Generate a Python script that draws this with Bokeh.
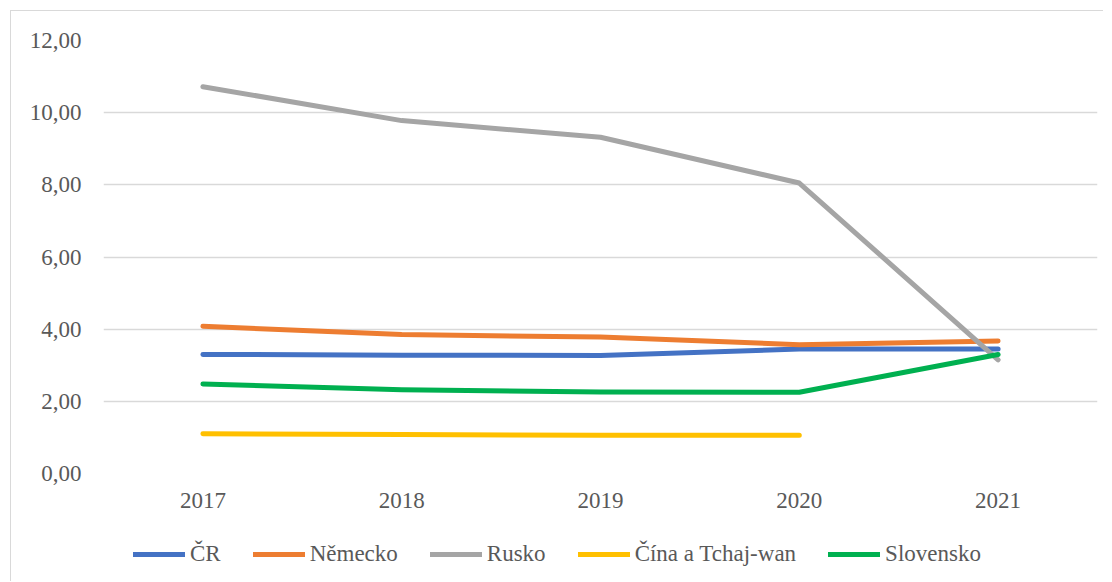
from bokeh.plotting import figure
from bokeh.layouts import column
from bokeh.models import FactorRange, Range1d, FixedTicker, Legend, LegendItem, ColumnDataSource
from bokeh.embed import file_html
from bokeh.resources import INLINE

years = ["2017", "2018", "2019", "2020", "2021"]
series_names = ["ČR", "Německo", "Rusko", "Čína a Tchaj-wan", "Slovensko"]
cr = [3.30, 3.28, 3.27, 3.45, 3.45]
nemecko = [4.08, 3.85, 3.78, 3.57, 3.67]
rusko = [10.72, 9.78, 9.32, 8.05, 3.15]
cina = [1.10, 1.08, 1.06, 1.06, float("nan")]
slovensko = [2.48, 2.32, 2.26, 2.25, 3.30]
colors = ["#4472C4", "#ED7D31", "#A5A5A5", "#FFC000", "#00B050"]
y_ticks = [0, 2, 4, 6, 8, 10, 12]
y_tick_labels = ["0,00", "2,00", "4,00", "6,00", "8,00", "10,00", "12,00"]

FONT = "Liberation Serif"
TXT = "#595959"
FS = "23px"

p = figure(width=1092, height=520, x_range=FactorRange(factors=years, range_padding=0),
           y_range=Range1d(0, 12), output_backend="svg", toolbar_location=None,
           min_border_left=92, min_border_right=6, min_border_top=29, min_border_bottom=58)
p.outline_line_color = None
p.background_fill_color = "white"
p.border_fill_color = "white"

p.xgrid.grid_line_color = None
p.ygrid.grid_line_color = "#d9d9d9"
p.ygrid.grid_line_width = 1.3

p.yaxis.ticker = FixedTicker(ticks=y_ticks)
p.yaxis.major_label_overrides = {t: l for t, l in zip(y_ticks, y_tick_labels)}
for ax in (p.xaxis, p.yaxis):
    ax.axis_line_color = None
    ax.major_tick_line_color = None
    ax.minor_tick_line_color = None
    ax.major_tick_out = 0
    ax.major_tick_in = 0
    ax.major_label_text_font = FONT
    ax.major_label_text_font_size = FS
    ax.major_label_text_color = TXT
p.yaxis.major_label_standoff = 22
p.xaxis.major_label_standoff = 19

# legend strip below the plot (its own lines are kept outside its visible range)
pl = figure(width=1092, height=50, x_range=Range1d(0, 1), y_range=Range1d(-200, -100),
            x_axis_type=None, y_axis_type=None, output_backend="svg", toolbar_location=None,
            min_border=0)
pl.outline_line_color = None
pl.background_fill_color = "white"
pl.border_fill_color = "white"

items = []
for name, vals, col in zip(series_names, [cr, nemecko, rusko, cina, slovensko], colors):
    src = ColumnDataSource(dict(x=years, y=vals))
    p.line("x", "y", source=src, line_color=col, line_width=5,
           line_cap="round", line_join="round")
    src2 = ColumnDataSource(dict(x=list(range(len(years))), y=vals))
    rl = pl.line("x", "y", source=src2, line_color=col, line_width=5,
                 line_cap="round", line_join="round")
    items.append(LegendItem(label=name, renderers=[rl]))

legend = Legend(items=items, orientation="horizontal", location=(30, 14),
                glyph_width=52, glyph_height=24, label_height=24, label_standoff=5,
                spacing=32, padding=0, margin=0, border_line_color=None,
                background_fill_alpha=0,
                label_text_font=FONT, label_text_font_size=FS, label_text_color=TXT)
pl.add_layout(legend, "center")

layout = column(p, pl, spacing=0)
layout.styles = {"border-left": "1px solid #d9d9d9", "border-top": "1px solid #d9d9d9",
                 "margin-left": "10px", "margin-top": "10px"}

open("out.html", "w").write(file_html(layout, INLINE))
